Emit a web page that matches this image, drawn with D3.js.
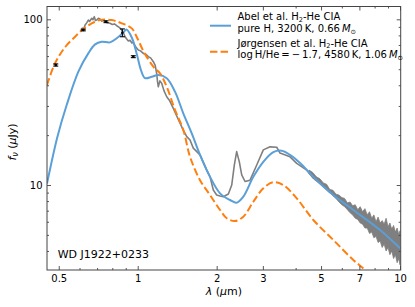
<!DOCTYPE html>
<html><head><meta charset="utf-8">
<script src="https://cdn.jsdelivr.net/npm/d3@7"></script>
<style>body{margin:0;background:#fff}svg{display:block;font-family:"DejaVu Sans",sans-serif}</style>
</head><body><svg id="c" width="415" height="307"></svg>
<script>
// ---- data (wavelength in micron, flux in microJy) ----
const abelLam = [0.451,0.494,0.536,0.594,0.648,0.688,0.729,0.784,0.832,0.882,0.906,0.951,0.994,1.029,1.066,1.131,1.198,1.290,1.387,1.492,1.607,1.728,1.887,2.060,2.249,2.384,2.527,2.759,3.012,3.289,3.540,3.808,4.158,4.673,5.569,6.637,8.391,10.0];
const abelFlux = [10.2,19.5,30.4,48.3,62.3,70.6,73.2,72.6,76.8,83.5,86.7,77.1,60.9,49.4,44.2,45.0,46.1,44.1,36.6,27.1,20.5,15.2,11.2,8.91,8.12,7.82,8.50,11.2,13.8,15.8,16.1,15.2,13.6,11.2,8.70,7.07,5.35,4.15];

const jorgLam = [0.451,0.484,0.530,0.577,0.620,0.668,0.718,0.796,0.869,0.949,0.998,1.058,1.147,1.216,1.290,1.387,1.492,1.583,1.728,1.887,2.060,2.185,2.349,2.527,2.759,3.012,3.289,3.590,4.039,4.673,5.569,6.637,7.356,8.39,10.0];
const jorgFlux = [40.1,54.3,68.3,78.5,87.4,94.6,99.0,99.0,94.6,88.2,76.6,63.0,51.8,47.2,39.2,28.4,21.5,14.8,10.7,8.70,7.07,6.30,6.06,6.44,7.93,9.55,10.4,10.0,8.31,6.15,4.66,3.53,3.07,2.43,1.84];

const obsLam = [0.608,0.615,0.622,0.630,0.640,0.648,0.655,0.668,0.675,0.683,0.690,0.698,0.708,0.718,0.730,0.740,0.750,0.765,0.784,0.800,0.815,0.832,0.850,0.869,0.882,0.895,0.908,0.921,0.935,0.950,0.962,0.980,1.005,1.025,1.050,1.075,1.097,1.120,1.147,1.165,1.181,1.190,1.198,1.215,1.234,1.260,1.290,1.320,1.367,1.410,1.450,1.490,1.538,1.583,1.629,1.728,1.833,1.887,1.942,2.000,2.060,2.120,2.216,2.283,2.335,2.384,2.440,2.492,2.565,2.681,2.843,3.012,3.194,3.389,3.487,3.808,4.039,4.410,4.673,4.955,5.41,5.906,6.45,7.04,7.69,8.39,9.16,10.0];
const obsFlux = [85.0,88.5,87.0,92.4,95.5,99.0,97.0,101.4,99.5,103.7,98.5,99.0,101.5,100.4,97.5,99.0,96.7,95.5,94.6,93.0,93.8,91.5,89.5,86.2,83.0,78.5,76.0,74.0,74.8,72.0,72.6,68.5,65.3,64.5,62.3,61.5,59.5,58.5,55.5,53.0,47.2,42.0,39.2,42.5,41.1,37.0,34.1,32.5,29.0,26.0,23.6,21.5,19.6,18.7,16.7,15.2,12.3,11.2,9.33,8.70,8.58,8.50,8.82,10.0,13.2,15.9,13.8,11.5,10.5,10.7,13.2,16.3,17.0,16.9,15.6,14.8,13.5,12.3,11.0,10.2,9.0,8.2,7.3,6.6,5.95,5.3,4.75,4.1];

// noisy mid-IR envelope of the observed spectrum
const bandLam = [4.5,4.65,4.8,4.95,5.1,5.25,5.4,5.55,5.7,5.85,6.0,6.15,6.3,6.45,6.6,6.75,6.9,7.05,7.2,7.35,7.5,7.65,7.8,7.95,8.1,8.25,8.4,8.55,8.7,8.85,9.0,9.15,9.3,9.45,9.6,9.75,9.9,10.0];
const bandHi  = [12.3,11.9,11.2,10.9,10.3,10.1,9.4,9.3,8.8,8.7,8.4,8.3,7.8,7.9,7.5,7.6,7.1,7.4,6.9,7.2,6.6,6.9,6.3,6.6,6.0,6.4,5.9,6.1,5.8,6.3,5.6,5.9,5.4,5.7,5.2,5.5,5.0,5.3];
const bandLo  = [11.7,11.3,10.6,10.3,9.8,9.4,9.0,8.6,8.3,7.9,7.6,7.4,7.1,6.8,6.6,6.3,6.2,5.9,5.8,5.5,5.5,5.1,5.2,4.8,4.9,4.5,4.6,4.2,4.4,4.0,4.2,3.8,4.0,3.6,3.8,3.4,3.6,3.3];

const photLam  = [0.487,0.620,0.757,0.874,0.962];
const photFlux = [53.0,86.2,96.7,83.0,59.5];
const photErr  = [0.8,1.0,1.2,4.5,0.8];

const xMajor = [0.5,1,2,3,5,7,10];
const xMajorLabels = ["0.5","1","2","3","5","7","10"];
const xMinor = [0.6,0.7,0.8,0.9,4,6,8,9];
const yMajor = [10,100];
const yMajorLabels = ["10","100"];
const yMinor = [4,5,6,7,8,9,20,30,40,50,60,70,80,90];

// ---- drawing ----
const W=415,H=307,L=47,R=400.7,T=6.5,B=270;
const x=d3.scaleLog().domain([0.451,10.06]).range([L,R]);
const y=d3.scaleLog().domain([3.07,119.5]).range([B,T]);
const svg=d3.select("#c");
svg.append("rect").attr("width",W).attr("height",H).attr("fill","#fff");
svg.append("defs").append("clipPath").attr("id","clip").append("rect")
  .attr("x",L).attr("y",T).attr("width",R-L).attr("height",B-T);
const g=svg.append("g").attr("clip-path","url(#clip)");
const zip=(a,b)=>a.map((v,i)=>[v,b[i]]);
const smooth=d3.line().x(d=>x(d[0])).y(d=>y(d[1])).curve(d3.curveCatmullRom.alpha(0.5));
const lin=d3.line().x(d=>x(d[0])).y(d=>y(d[1]));
const GREY="#7f7f7f", BLUE="#5a9fd8", ORANGE="#ff7f0e";

g.append("path").datum(bandLam.map((l,i)=>[l,bandLo[i],bandHi[i]]))
  .attr("d",d3.area().x(d=>x(d[0])).y0(d=>y(d[1])).y1(d=>y(d[2])))
  .attr("fill",GREY).attr("stroke",GREY).attr("stroke-width",0.8);
g.append("path").datum(zip(obsLam,obsFlux)).attr("d",lin)
  .attr("fill","none").attr("stroke",GREY).attr("stroke-width",1.6).attr("stroke-linejoin","round");
g.append("path").datum(zip(abelLam,abelFlux)).attr("d",smooth)
  .attr("fill","none").attr("stroke",BLUE).attr("stroke-width",2);
g.append("path").datum(zip(jorgLam,jorgFlux)).attr("d",smooth)
  .attr("fill","none").attr("stroke",ORANGE).attr("stroke-width",2).attr("stroke-dasharray","7.4,3.2");

// photometry
const ph=svg.append("g").attr("stroke","#000").attr("stroke-width",1.1);
photLam.forEach((l,i)=>{
  const cx=x(l), y0=y(photFlux[i]-photErr[i]), y1=y(photFlux[i]+photErr[i]);
  ph.append("line").attr("x1",cx).attr("x2",cx).attr("y1",y0).attr("y2",y1);
  ph.append("line").attr("x1",cx-2.5).attr("x2",cx+2.5).attr("y1",y0).attr("y2",y0);
  ph.append("line").attr("x1",cx-2.5).attr("x2",cx+2.5).attr("y1",y1).attr("y2",y1);
  ph.append("circle").attr("cx",cx).attr("cy",y(photFlux[i])).attr("r",1.3).attr("fill","#000").attr("stroke","none");
});

// axes
const AX="#444";
function styleAxis(sel){
  sel.select(".domain").remove();
  sel.selectAll("line").attr("stroke",AX).attr("stroke-width",0.9);
  sel.selectAll("text").attr("fill","#000").style("font-size","10px").style("font-family","DejaVu Sans");
}
const fmt=(vals,labs)=>d=>labs[vals.indexOf(d)];
svg.append("g").attr("transform",`translate(0,${B})`)
  .call(d3.axisBottom(x).tickValues(xMajor).tickFormat(fmt(xMajor,xMajorLabels)).tickSize(-4).tickPadding(4.5)).call(styleAxis);
svg.append("g").attr("transform",`translate(0,${B})`)
  .call(d3.axisBottom(x).tickValues(xMinor).tickFormat("").tickSize(-2)).call(styleAxis);
svg.append("g").attr("transform",`translate(0,${T})`)
  .call(d3.axisTop(x).tickValues(xMajor).tickFormat("").tickSize(-4)).call(styleAxis);
svg.append("g").attr("transform",`translate(0,${T})`)
  .call(d3.axisTop(x).tickValues(xMinor).tickFormat("").tickSize(-2)).call(styleAxis);
svg.append("g").attr("transform",`translate(${L},0)`)
  .call(d3.axisLeft(y).tickValues(yMajor).tickFormat(fmt(yMajor,yMajorLabels)).tickSize(-4).tickPadding(4.5)).call(styleAxis);
svg.append("g").attr("transform",`translate(${L},0)`)
  .call(d3.axisLeft(y).tickValues(yMinor).tickFormat("").tickSize(-2)).call(styleAxis);
svg.append("g").attr("transform",`translate(${R},0)`)
  .call(d3.axisRight(y).tickValues(yMajor).tickFormat("").tickSize(-4)).call(styleAxis);
svg.append("g").attr("transform",`translate(${R},0)`)
  .call(d3.axisRight(y).tickValues(yMinor).tickFormat("").tickSize(-2)).call(styleAxis);

svg.append("rect").attr("x",L).attr("y",T).attr("width",R-L).attr("height",B-T)
  .attr("fill","none").attr("stroke",AX).attr("stroke-width",1);

// axis labels
const xl=svg.append("text").attr("x",(L+R)/2).attr("y",294.5).attr("text-anchor","middle").style("font-size","11px");
xl.append("tspan").attr("font-style","italic").text("λ");
xl.append("tspan").text(" (");
xl.append("tspan").attr("font-style","italic").text("μ");
xl.append("tspan").text("m)");
const yl=svg.append("text").attr("transform","translate(16,142) rotate(-90)").attr("text-anchor","middle").style("font-size","11px");
yl.append("tspan").attr("font-style","italic").text("f");
yl.append("tspan").attr("font-style","italic").attr("baseline-shift","-25%").style("font-size","8px").text("ν");
yl.append("tspan").text(" (");
yl.append("tspan").attr("font-style","italic").text("μ");
yl.append("tspan").text("Jy)");

svg.append("text").attr("x",57.7).attr("y",258).style("font-size","11px").text("WD J1922+0233");

// legend
const lg=svg.append("g").style("font-size","10px");
lg.append("line").attr("x1",210).attr("x2",231).attr("y1",25.7).attr("y2",25.7).attr("stroke",BLUE).attr("stroke-width",2);
lg.append("line").attr("x1",210).attr("x2",231).attr("y1",51.7).attr("y2",51.7).attr("stroke",ORANGE).attr("stroke-width",2).attr("stroke-dasharray","7.4,3.2");
function h2line(yy,name){
  const e=lg.append("text").attr("x",237.5).attr("y",yy);
  e.append("tspan").text(name+" H");
  e.append("tspan").attr("dy",1.5).style("font-size","6.5px").text("2");
  e.append("tspan").attr("dy",-1.5).text("-He CIA");
}
function mline(yy,txt){
  const e=lg.append("text").attr("x",237.5).attr("y",yy);
  e.append("tspan").text(txt);
  e.append("tspan").attr("font-style","italic").text("M");
  e.append("tspan").attr("dy",1.5).style("font-size","6.5px").text("⊙");
}
h2line(20.3,"Abel et al.");
mline(32.1,"pure H, 3200\u2009K, 0.66\u2009");
h2line(46.5,"Jørgensen et al.");
mline(58.3,"log\u2009H/He\u2009=\u2009\u2212\u20091.7, 4580\u2009K, 1.06\u2009");
</script></body></html>
